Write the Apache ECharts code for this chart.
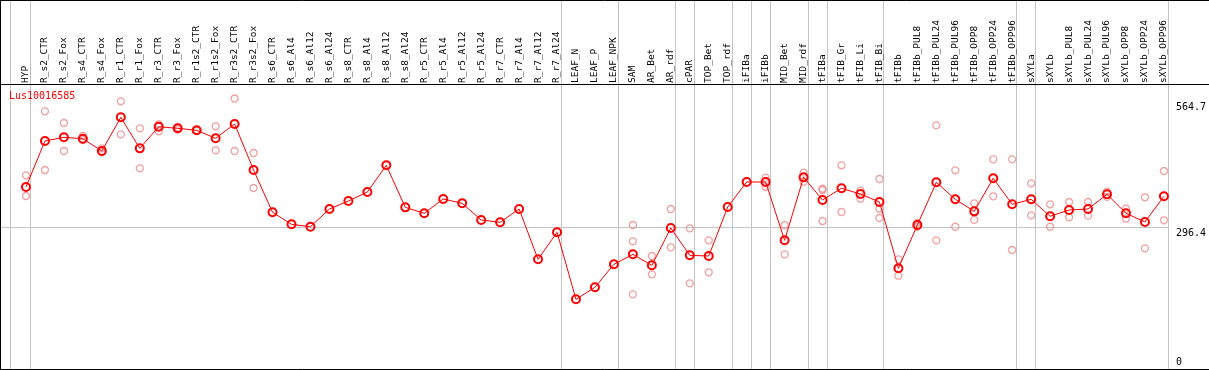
<!DOCTYPE html>
<html>
<head>
<meta charset="utf-8">
<script src="https://cdn.jsdelivr.net/npm/echarts@6/dist/echarts.min.js"></script>
<style>
html,body{margin:0;padding:0;background:#fff;}
#chart{width:1209px;height:370px;}
</style>
</head>
<body>
<div id="chart"></div>
<script>
const categories = ["HYP","R_s2_CTR","R_s2_Fox","R_s4_CTR","R_s4_Fox","R_r1_CTR","R_r1_Fox","R_r3_CTR","R_r3_Fox","R_r1s2_CTR","R_r1s2_Fox","R_r3s2_CTR","R_r3s2_Fox","R_s6_CTR","R_s6_Al4","R_s6_Al12","R_s6_Al24","R_s8_CTR","R_s8_Al4","R_s8_Al12","R_s8_Al24","R_r5_CTR","R_r5_Al4","R_r5_Al12","R_r5_Al24","R_r7_CTR","R_r7_Al4","R_r7_Al12","R_r7_Al24","LEAF_N","LEAF_P","LEAF_NPK","SAM","AR_Bet","AR_rdf","cPAR","TOP_Bet","TOP_rdf","iFIBa","iFIBb","MID_Bet","MID_rdf","tFIBa","tFIB_Gr","tFIB_Li","tFIB_Bi","tFIBb","tFIBb_PUL8","tFIBb_PUL24","tFIBb_PUL96","tFIBb_OPP8","tFIBb_OPP24","tFIBb_OPP96","sXYLa","sXYLb","sXYLb_PUL8","sXYLb_PUL24","sXYLb_PUL96","sXYLb_OPP8","sXYLb_OPP24","sXYLb_OPP96"];

const meanValues = [380.6,476.3,484,481,455.5,525.6,461,506,502.7,498.5,482,511.6,416,328,303,298,334.9,351.5,370.2,425.7,338.3,325.9,355.7,346.7,312,307.2,334.9,230.2,286.4,147,172,219.8,240.6,217.7,295.3,238.5,237.1,339,391,391,269.7,400.7,353.6,377.9,366,349.4,211.5,301.6,390.4,355,330,398.7,344.6,355,319.7,332.8,334.9,365.4,325.9,307.8,361.3];

const repA = [404.9,538,513.7,487,461,558.8,502.7,511,505,498,506.9,564.7,451.3,null,null,null,null,null,null,null,null,null,null,null,null,null,null,null,null,null,null,null,301.6,237.1,334.9,294.7,269.7,null,null,400,301.6,410.4,374.4,425.7,373,397.3,230.2,306,508.9,415.3,346.7,438.2,438.2,388.3,344.6,349.4,349.4,371,335.5,359.2,413.9];
const repB = [361.9,416,455.5,478,453,490.2,419.5,496.5,500,499,457,455.5,378.5,null,null,null,null,null,null,null,null,null,null,null,null,null,null,null,null,null,null,null,267.7,199,255.2,180.3,203.2,null,null,380.6,240.6,391.6,309.9,328.6,356.3,335.5,196.1,298,269.7,298,312.6,361.3,249.6,321.7,298,317.6,321,360,314.7,253.1,311.4];
const repC = [null,null,null,null,null,null,null,null,null,null,null,null,null,null,null,null,null,null,null,null,null,null,null,null,null,null,null,null,null,null,null,null,157.4,null,null,null,null,null,null,null,null,null,377,null,null,316.1,null,null,null,null,null,null,null,null,null,null,null,null,null,null,null];

const yTicks = [0, 296.4, 564.7];
const gridValue = 296.4;
const groupEnds = ["HYP","R_r7_Al24","LEAF_NPK","AR_rdf","cPAR","TOP_rdf","iFIBa","iFIBb","MID_rdf","tFIBa","tFIB_Bi","tFIBb_OPP96","sXYLa","sXYLb_OPP96"];
const geneName = "Lus10016585";

const MONO = "'DejaVu Sans Mono', 'Liberation Mono', monospace";

function repPoints(arr){
  const out = [];
  arr.forEach((v,i)=>{ if(v!==null) out.push([i, v]); });
  return out;
}

const chart = echarts.init(document.getElementById('chart'), null, {renderer:'canvas'});

const repStyle = {color: 'rgba(0,0,0,0)', borderColor: '#ec8a8a', borderWidth: 1.3};

const option = {
  animation: false,
  backgroundColor: '#ffffff',
  title: {
    text: geneName, left: 9, top: 91, padding: 0,
    textStyle: {fontFamily: MONO, fontSize: 10, fontWeight: 'normal', color: '#ff0000'}
  },
  grid: {left: 16.5, right: 33.5, top: 98.5, bottom: 0, containLabel: false},
  xAxis: {
    type: 'category', position: 'top', data: categories, boundaryGap: true,
    axisLine: {show: false}, axisTick: {show: false}, splitLine: {show: false},
    axisLabel: {interval: 0, rotate: 90, margin: 15.5, fontFamily: MONO, fontSize: 9.5, color: '#000'}
  },
  yAxis: {
    type: 'value', position: 'right', min: 0, max: 564.7,
    axisLine: {show: false}, axisTick: {show: false}, splitLine: {show: false},
    axisLabel: {
      customValues: yTicks, margin: 2.5, fontFamily: MONO, fontSize: 10, color: '#000',
      formatter: function(v){
        if (v === 0) return '{b|0}';
        if (Math.abs(v-564.7) < 0.01) return '{t|564.7}';
        return '{m|' + v + '}';
      },
      rich: {
        t: {fontFamily: MONO, fontSize: 10, color: '#000', padding: [18,0,0,0]},
        m: {fontFamily: MONO, fontSize: 10, color: '#000', padding: [11,0,0,0]},
        b: {fontFamily: MONO, fontSize: 10, color: '#000', padding: [0,0,16,0]}
      }
    }
  },
  series: [
    {type: 'scatter', data: repPoints(repA), symbol: 'circle', symbolSize: 7, z: 2, itemStyle: repStyle},
    {type: 'scatter', data: repPoints(repB), symbol: 'circle', symbolSize: 7, z: 2, itemStyle: repStyle},
    {type: 'scatter', data: repPoints(repC), symbol: 'circle', symbolSize: 7, z: 2, itemStyle: repStyle},
    {type: 'line', data: meanValues, symbol: 'circle', symbolSize: 8, z: 5,
     lineStyle: {color: '#ff0000', width: 1},
     itemStyle: {color: 'rgba(0,0,0,0)', borderColor: '#ff0000', borderWidth: 2}}
  ]
};
chart.setOption(option);

// frame, separators and grid line positioned through the chart's scales
const g = [];
const line = (x1,y1,x2,y2,color) => ({type:'line', silent:true, z: 0,
  shape:{x1,y1,x2,y2}, style:{stroke: color, lineWidth: 1}});
const gray = '#c4c4c4';
const firstX = chart.convertToPixel({xAxisIndex:0}, 0);
g.push(line(Math.round(firstX - 16) + 0.5, 0, Math.round(firstX - 16) + 0.5, 370, gray));
groupEnds.forEach(name => {
  const x = chart.convertToPixel({xAxisIndex:0}, categories.indexOf(name));
  const xs = Math.round(x + 4) + 0.5;
  g.push(line(xs, 0, xs, 370, gray));
});
const lastSep = Math.round(chart.convertToPixel({xAxisIndex:0}, categories.indexOf(groupEnds[groupEnds.length-1])) + 4) + 0.5;
const gy = Math.round(chart.convertToPixel({yAxisIndex:0}, gridValue)) + 0.5;
g.push(line(0, gy, lastSep, gy, gray));
// black frame
g.push(line(0.5, 0, 0.5, 370, '#000'));
g.push(line(0, 0.5, 1209, 0.5, '#000'));
g.push(line(0, 84.5, 1209, 84.5, '#000'));
g.push(line(0, 369.5, 1209, 369.5, '#000'));
chart.setOption({graphic: g});
</script>
</body>
</html>
